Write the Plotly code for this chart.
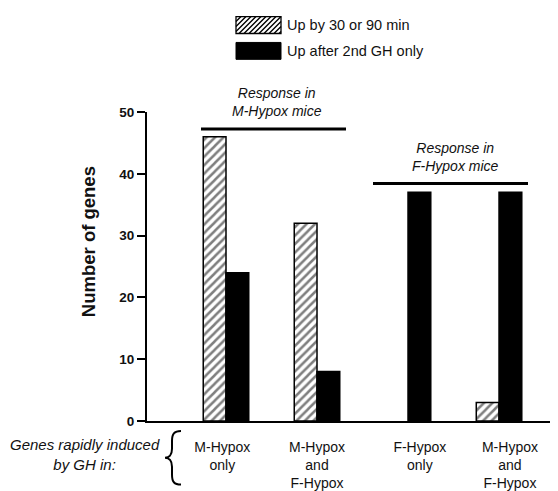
import plotly.graph_objects as go

# ---------------- data ----------------
categories = ["M-Hypox<br>only", "M-Hypox<br>and<br>F-Hypox",
              "F-Hypox<br>only", "M-Hypox<br>and<br>F-Hypox"]
up_early = [46, 32, 0, 3]          # Up by 30 or 90 min (hatched)
up_after_2nd = [24, 8, 37, 37]     # Up after 2nd GH only (black)
y_ticks = [0, 10, 20, 30, 40, 50]
series_names = ["Up by 30 or 90 min", "Up after 2nd GH only"]
group_titles = ["Response in<br>M-Hypox mice", "Response in<br>F-Hypox mice"]
row_title = "Genes rapidly induced<br>by GH in:"
y_title = "Number of genes"

# ---------------- layout geometry (screen pixels) ----------------
W, H = 558, 491
OFF = 8                      # page body margin of the browser
L, R, T, B = 147, 558, 112, 423
FONT = "Arial, Liberation Sans, sans-serif"
label_offsets = [-0.04, 0.0, 0.13, 0.12]   # tick label placement (category units)


def px(x):
    return (x - L) / (R - L)


def py(y):
    return (B - y) / (B - T)


x = list(range(len(categories)))

fig = go.Figure()
fig.add_bar(
    x=x, y=up_early, name=series_names[0], showlegend=False,
    marker=dict(color="white",
                line=dict(color="black", width=[1.5 if v > 0 else 0 for v in up_early]),
                pattern=dict(shape="/", fgcolor="black", bgcolor="white",
                             size=6, solidity=0.42)),
)
fig.add_bar(
    x=x, y=up_after_2nd, name=series_names[1], showlegend=False,
    marker=dict(color="black", line=dict(color="black", width=1.5)),
)

shapes = []
annotations = []

# ---- manual legend ----
sx0, sx1 = 236, 281
hy0, hy1 = 16, 33
hatch = []
step = 5
c = sx0 + hy0
while c <= sx1 + hy1:
    pts = []
    for yy in (hy0, hy1):
        xx = c - yy
        if sx0 <= xx <= sx1:
            pts.append((xx, yy))
    for xx in (sx0, sx1):
        yy = c - xx
        if hy0 < yy < hy1:
            pts.append((xx, yy))
    if len(pts) >= 2:
        (a, b), (d, e) = pts[0], pts[1]
        hatch.append(f"M{px(a)},{py(b)} L{px(d)},{py(e)}")
    c += step
shapes.append(dict(type="path", xref="paper", yref="paper", path=" ".join(hatch),
                   line=dict(color="black", width=1.4)))
shapes.append(dict(type="rect", xref="paper", yref="paper",
                   x0=px(sx0), x1=px(sx1), y0=py(hy1), y1=py(hy0),
                   line=dict(color="black", width=1.3), fillcolor="rgba(0,0,0,0)"))
by0, by1 = 42, 59
shapes.append(dict(type="rect", xref="paper", yref="paper",
                   x0=px(sx0), x1=px(sx1), y0=py(by1), y1=py(by0),
                   line=dict(color="black", width=1), fillcolor="black"))
for name, yc in zip(series_names, [(hy0 + hy1) / 2, (by0 + by1) / 2]):
    annotations.append(dict(xref="paper", yref="paper", x=px(285), y=py(yc),
                            text=name, showarrow=False, xanchor="left",
                            yanchor="middle", font=dict(size=14.5, color="#111")))

# ---- group headers ----
for title, (cx, cy, lx0, lx1, ly) in zip(
        group_titles,
        [(277, 102, 201, 346, 129), (455, 157.5, 373, 528, 184)]):
    annotations.append(dict(xref="paper", yref="paper", x=px(cx), y=py(cy),
                            text=f"<i>{title}</i>", showarrow=False,
                            xanchor="center", yanchor="middle", align="center",
                            font=dict(size=14, color="#111")))
    shapes.append(dict(type="line", xref="paper", yref="paper",
                       x0=px(lx0), x1=px(lx1), y0=py(ly), y1=py(ly),
                       line=dict(color="black", width=3)))

# ---- y-axis title ----
annotations.append(dict(xref="paper", yref="paper", x=px(88), y=py(243),
                        text=f"<b>{y_title}</b>", showarrow=False, textangle=-90,
                        xanchor="center", yanchor="middle",
                        font=dict(size=18.5, color="#111")))

# ---- row title + brace ----
annotations.append(dict(xref="paper", yref="paper", x=px(162), y=py(457),
                        text=f"<i>{row_title}</i>", showarrow=False,
                        xanchor="right", yanchor="middle", align="center",
                        font=dict(size=15, color="#111")))
brace_pts = [
    ("M", [(181, 433)]),
    ("C", [(174, 433), (172, 436), (172, 443)]),
    ("L", [(172, 451)]),
    ("C", [(172, 457), (169, 460), (165, 460)]),
    ("C", [(169, 460), (172, 463), (172, 469)]),
    ("L", [(172, 477)]),
    ("C", [(172, 484), (174, 487), (181, 487)]),
]
bpath = " ".join(cmd + " ".join(f"{px(a)},{py(b)}" for a, b in pts)
                 for cmd, pts in brace_pts)
shapes.append(dict(type="path", xref="paper", yref="paper", path=bpath,
                   line=dict(color="black", width=2)))

fig.update_layout(
    width=W - OFF, height=H - OFF,
    margin=dict(l=L - OFF, r=W - R, t=T - OFF, b=H - B, pad=0),
    paper_bgcolor="white", plot_bgcolor="white",
    barmode="group", bargap=0.5, bargroupgap=0,
    font=dict(family=FONT, color="#111"),
    shapes=shapes, annotations=annotations,
    xaxis=dict(range=[-0.868, 3.648], tickmode="array",
               tickvals=[i + o for i, o in zip(x, label_offsets)],
               ticktext=categories, ticklabelstandoff=12,
               ticks="", showline=True, linecolor="black", linewidth=2,
               showgrid=False, zeroline=False,
               tickfont=dict(size=14, color="#111")),
    yaxis=dict(range=[0, 50], tickmode="array", tickvals=y_ticks,
               ticktext=[str(v) for v in y_ticks],
               ticks="outside", ticklen=8, tickwidth=2, tickcolor="black",
               showline=True, linecolor="black", linewidth=2,
               showgrid=False, zeroline=False,
               tickfont=dict(size=13.5, color="#111", weight="bold")),
)

fig.write_html("out.html")
